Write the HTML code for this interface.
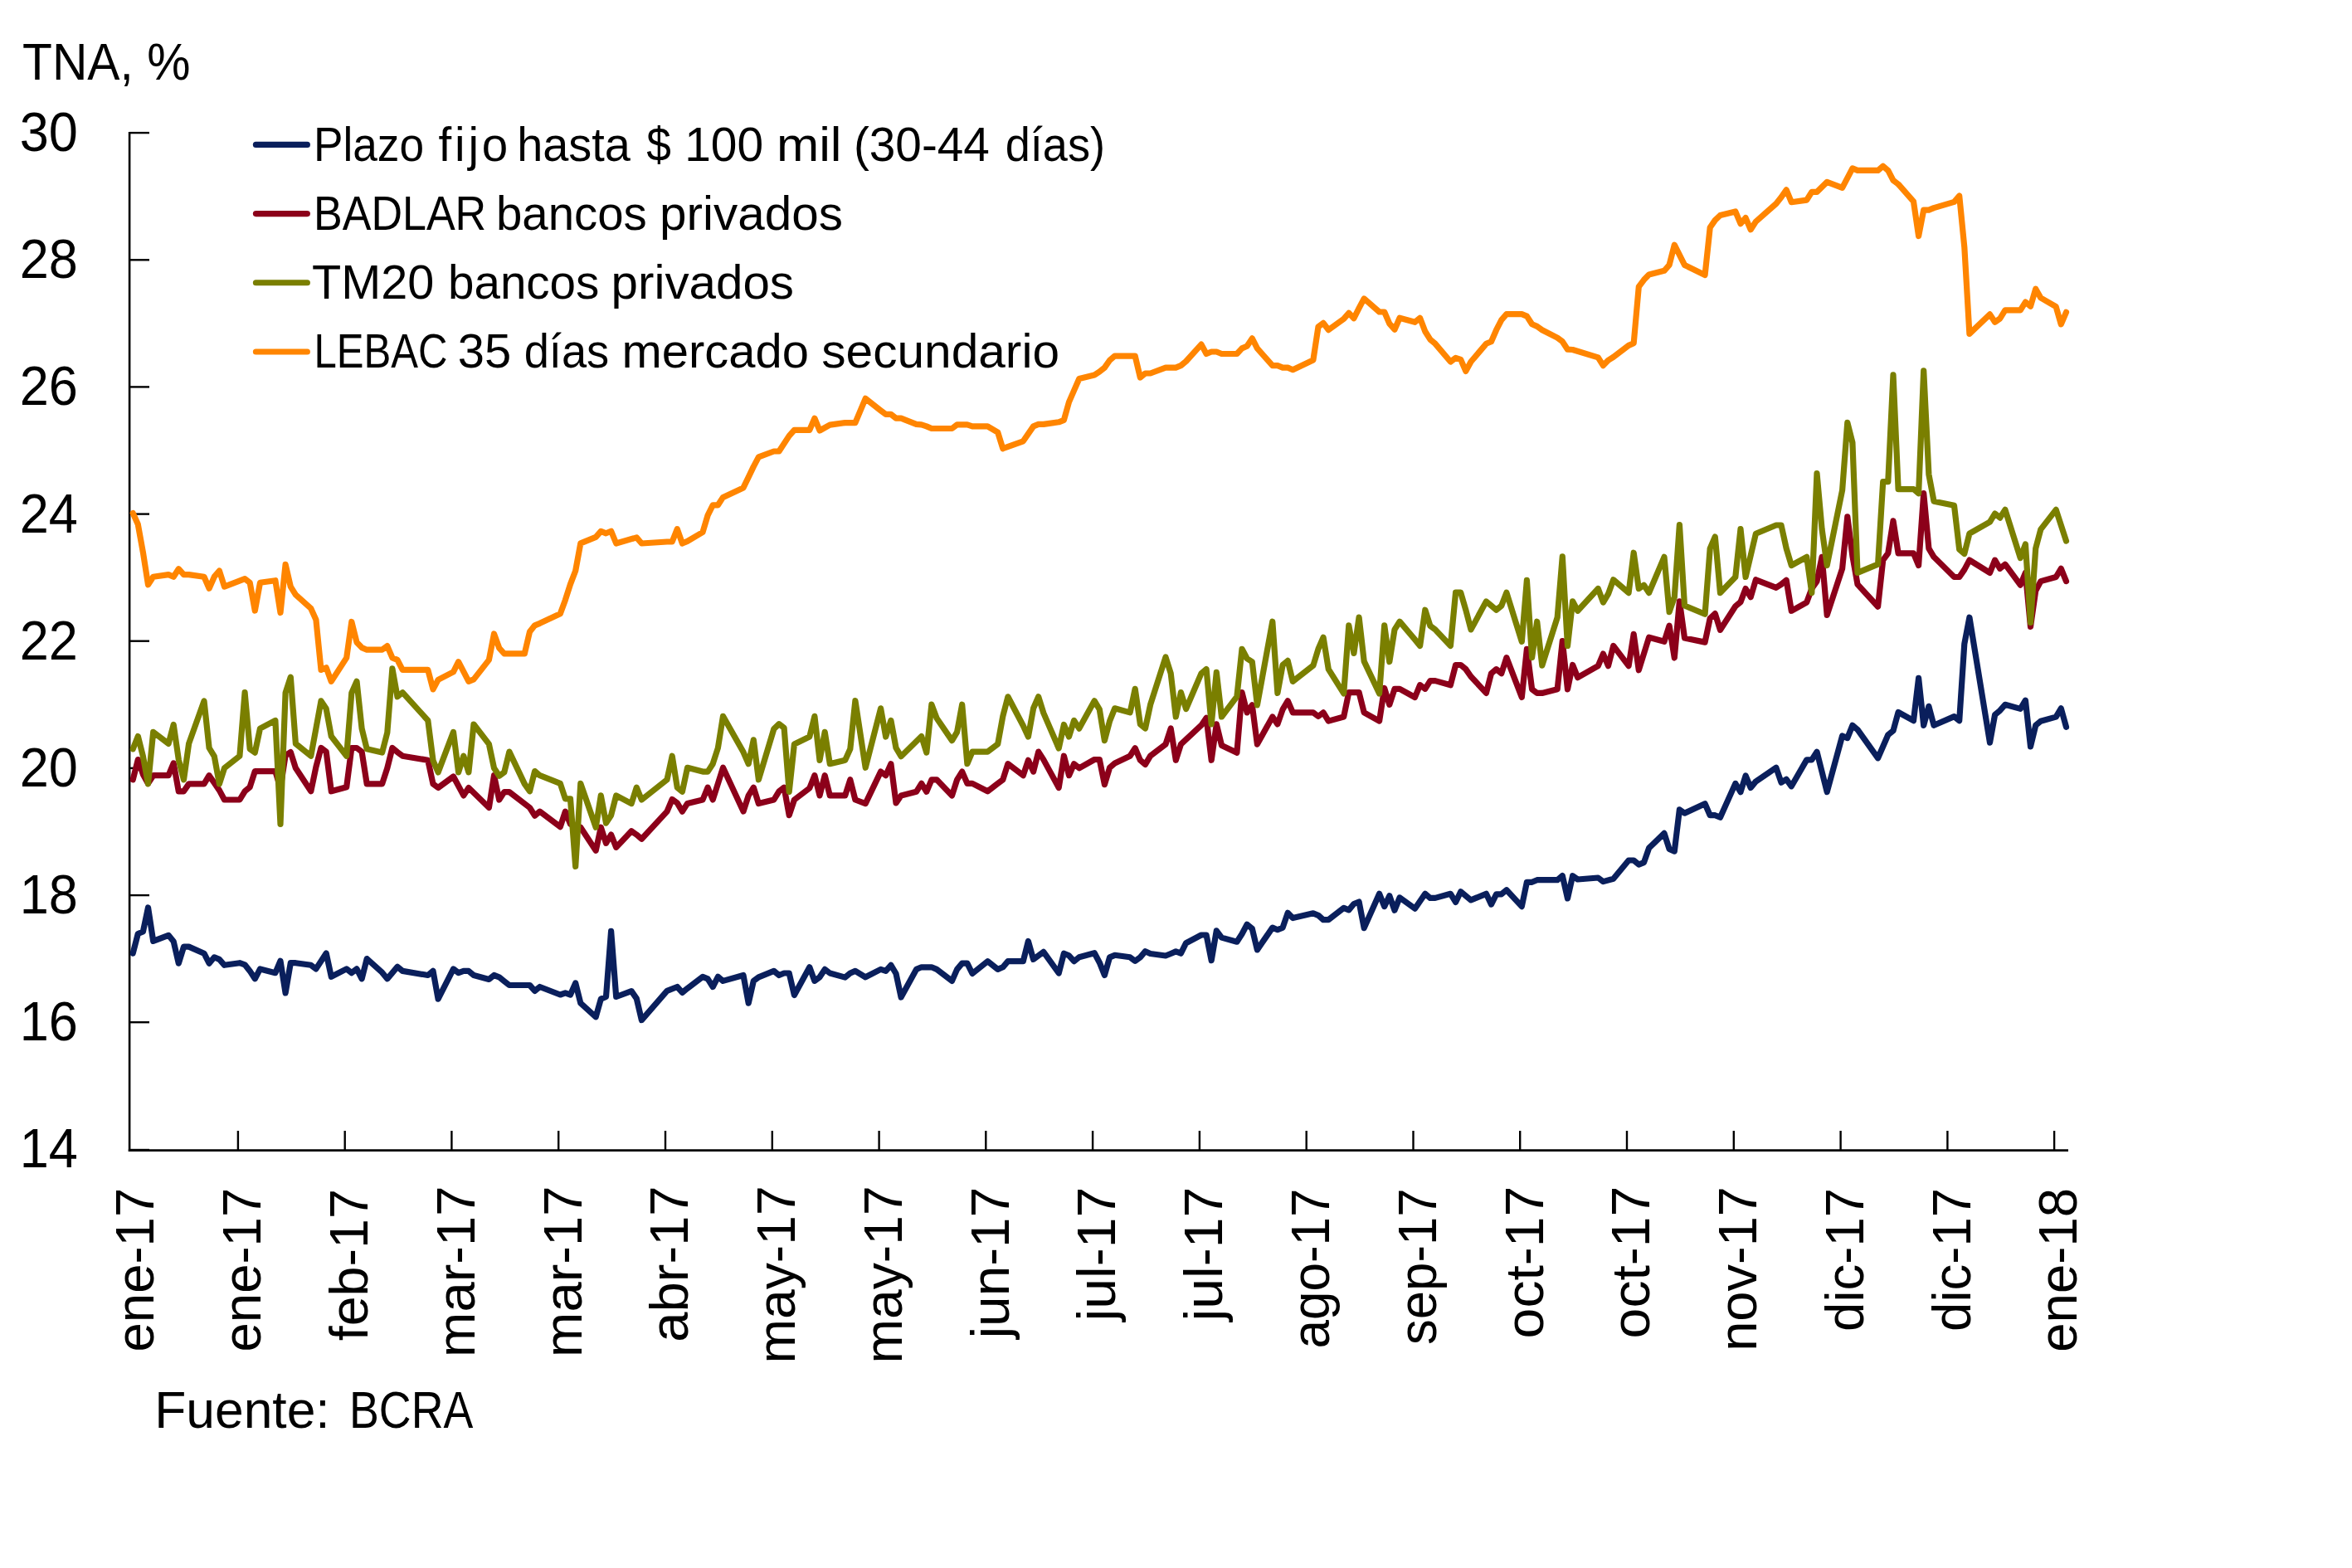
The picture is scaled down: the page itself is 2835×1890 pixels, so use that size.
<!DOCTYPE html>
<html lang="es"><head><meta charset="utf-8"><title>Tasas de interés - BCRA</title>
<style>html,body{margin:0;padding:0;background:#fff}svg{display:block}text{font-family:"Liberation Sans",sans-serif;fill:#000}</style></head><body>
<svg width="2835" height="1890" viewBox="0 0 2835 1890">
<rect width="2835" height="1890" fill="#fff"/>
<g stroke="#000" stroke-width="2.6" fill="none">
<path d="M156.1,158.9 V1387.9"/>
<path d="M154.8,1386.6 H2493"/>
</g>
<g stroke="#000" stroke-width="2.4" fill="none">
<path d="M156.2,160.1 H180"/>
<path d="M156.2,313.3 H180"/>
<path d="M156.2,466.4 H180"/>
<path d="M156.2,619.6 H180"/>
<path d="M156.2,772.7 H180"/>
<path d="M156.2,925.9 H180"/>
<path d="M156.2,1079.1 H180"/>
<path d="M156.2,1232.2 H180"/>
<path d="M156.2,1386.0 H180"/>
<path d="M286.9,1386.6 V1363"/>
<path d="M415.7,1386.6 V1363"/>
<path d="M544.4,1386.6 V1363"/>
<path d="M673.2,1386.6 V1363"/>
<path d="M802.0,1386.6 V1363"/>
<path d="M930.8,1386.6 V1363"/>
<path d="M1059.6,1386.6 V1363"/>
<path d="M1188.3,1386.6 V1363"/>
<path d="M1317.1,1386.6 V1363"/>
<path d="M1445.9,1386.6 V1363"/>
<path d="M1574.7,1386.6 V1363"/>
<path d="M1703.5,1386.6 V1363"/>
<path d="M1832.2,1386.6 V1363"/>
<path d="M1961.0,1386.6 V1363"/>
<path d="M2089.8,1386.6 V1363"/>
<path d="M2218.6,1386.6 V1363"/>
<path d="M2347.4,1386.6 V1363"/>
<path d="M2476.1,1386.6 V1363"/>
</g>
<path d="M160.2,1149.2 L166.3,1125.5 L172.4,1123.0 L178.5,1093.9 L184.7,1134.4 L203.1,1127.3 L209.2,1134.7 L215.3,1161.2 L221.5,1141.1 L227.6,1141.1 L246.0,1149.2 L252.1,1161.2 L258.3,1153.8 L264.4,1156.4 L270.5,1163.3 L288.9,1160.7 L295.1,1162.8 L301.2,1170.4 L307.3,1179.8 L313.5,1167.9 L331.9,1172.7 L338.0,1158.2 L344.1,1196.9 L350.3,1160.7 L356.4,1160.7 L374.8,1163.3 L380.9,1167.9 L393.2,1149.0 L399.3,1177.3 L417.7,1167.9 L423.8,1172.7 L430.0,1167.9 L436.1,1179.8 L442.2,1155.6 L460.6,1172.2 L466.8,1179.8 L472.9,1172.7 L479.0,1165.3 L485.2,1170.4 L515.8,1175.5 L522.0,1170.4 L528.1,1204.1 L546.5,1167.9 L552.6,1172.7 L558.8,1170.4 L564.9,1170.4 L571.0,1175.5 L589.4,1180.4 L595.5,1175.5 L601.7,1177.8 L607.8,1182.7 L613.9,1187.5 L638.5,1187.5 L644.6,1194.4 L650.7,1189.5 L675.3,1199.0 L681.4,1196.9 L687.5,1199.0 L693.7,1184.9 L699.8,1209.2 L718.2,1225.8 L724.3,1204.1 L730.5,1201.5 L736.6,1122.4 L742.7,1201.5 L761.1,1194.6 L767.3,1203.6 L773.4,1229.6 L804.0,1194.4 L816.3,1189.5 L822.4,1196.4 L828.6,1191.3 L847.0,1177.3 L853.1,1179.8 L859.2,1189.5 L865.4,1177.3 L871.5,1182.4 L896.0,1175.5 L902.2,1209.2 L908.3,1182.4 L914.4,1177.8 L932.8,1170.4 L939.0,1175.5 L945.1,1173.0 L951.2,1173.0 L957.4,1199.5 L975.8,1165.8 L981.9,1182.4 L988.0,1177.8 L994.2,1168.4 L1000.3,1173.0 L1018.7,1178.1 L1024.8,1173.0 L1030.9,1170.4 L1043.2,1177.8 L1061.6,1168.4 L1067.7,1170.4 L1073.9,1163.3 L1080.0,1173.5 L1086.1,1202.0 L1104.5,1168.4 L1110.7,1165.8 L1122.9,1165.8 L1129.1,1168.4 L1147.5,1182.4 L1153.6,1168.4 L1159.7,1161.2 L1165.9,1161.2 L1172.0,1173.5 L1190.4,1158.7 L1202.7,1168.4 L1208.8,1165.8 L1214.9,1158.7 L1233.3,1158.7 L1239.4,1134.4 L1245.6,1156.4 L1257.8,1147.4 L1276.2,1173.0 L1282.4,1149.2 L1288.5,1151.8 L1294.6,1158.7 L1300.8,1153.8 L1319.2,1148.7 L1325.3,1160.2 L1331.4,1175.5 L1337.6,1153.8 L1343.7,1151.3 L1362.1,1153.8 L1368.2,1158.4 L1374.4,1153.8 L1380.5,1146.7 L1386.6,1149.5 L1405.0,1152.0 L1411.2,1149.5 L1417.3,1146.9 L1423.4,1149.2 L1429.6,1136.7 L1448.0,1127.0 L1454.1,1127.0 L1460.2,1157.7 L1466.3,1121.9 L1472.5,1130.1 L1490.9,1135.2 L1497.0,1125.8 L1503.1,1114.3 L1509.3,1119.4 L1515.4,1144.9 L1533.8,1118.1 L1539.9,1120.7 L1546.1,1118.1 L1552.2,1100.3 L1558.3,1106.6 L1582.9,1100.8 L1589.0,1103.3 L1595.1,1108.7 L1601.3,1108.7 L1619.7,1094.4 L1625.8,1096.9 L1631.9,1089.5 L1638.1,1087.0 L1644.2,1118.6 L1662.6,1077.3 L1668.7,1092.6 L1674.8,1079.8 L1681.0,1097.2 L1687.1,1081.9 L1705.5,1095.2 L1717.8,1077.3 L1723.9,1082.4 L1730.0,1082.4 L1748.4,1077.3 L1754.6,1087.5 L1760.7,1074.7 L1773.0,1084.9 L1791.4,1077.3 L1797.5,1090.1 L1803.6,1077.8 L1809.8,1077.8 L1815.9,1072.7 L1834.3,1092.6 L1840.4,1063.3 L1846.6,1063.3 L1852.7,1060.7 L1877.2,1060.7 L1883.3,1055.6 L1889.5,1082.9 L1895.6,1055.7 L1901.7,1060.0 L1926.3,1058.0 L1932.4,1062.6 L1944.7,1059.2 L1963.1,1037.0 L1969.2,1037.0 L1975.3,1042.1 L1981.5,1039.6 L1987.6,1022.2 L2006.0,1004.4 L2012.1,1023.5 L2018.3,1026.1 L2024.4,975.8 L2030.5,980.2 L2055.1,968.7 L2061.2,982.7 L2067.3,982.7 L2073.5,985.3 L2091.8,944.4 L2098.0,954.6 L2104.1,935.0 L2110.2,949.5 L2116.4,941.9 L2140.9,925.3 L2147.0,943.2 L2153.2,939.3 L2159.3,947.8 L2177.7,915.9 L2183.8,915.9 L2190.0,906.2 L2196.1,930.4 L2202.2,954.6 L2220.6,887.0 L2226.8,889.6 L2232.9,874.3 L2239.0,879.4 L2263.6,913.8 L2275.8,885.8 L2282.0,880.7 L2288.1,858.5 L2306.5,868.7 L2312.6,817.4 L2318.7,874.3 L2324.9,851.3 L2331.0,874.3 L2355.5,863.6 L2361.7,868.7 L2367.8,776.1 L2373.9,744.2 L2398.5,895.2 L2404.6,861.5 L2410.7,856.4 L2416.9,849.3 L2435.3,854.4 L2441.4,844.2 L2447.5,899.8 L2453.7,874.3 L2459.8,869.2 L2478.2,864.1 L2484.3,853.9 L2490.5,876.3" fill="none" stroke="#0A1F5C" stroke-width="7.2" stroke-linejoin="round" stroke-linecap="round"/>
<path d="M160.2,939.8 L166.3,915.6 L172.4,933.4 L178.5,944.4 L184.7,934.7 L203.1,934.7 L209.2,919.9 L215.3,953.8 L221.5,953.8 L227.6,944.9 L246.0,944.9 L252.1,934.7 L264.4,952.6 L270.5,964.0 L288.9,964.0 L295.1,953.8 L301.2,948.7 L307.3,929.6 L331.9,929.6 L338.0,950.0 L344.1,910.5 L350.3,906.6 L356.4,925.8 L374.8,953.8 L380.9,924.5 L387.0,901.5 L393.2,906.1 L399.3,953.8 L417.7,948.7 L423.8,901.5 L430.0,901.5 L436.1,906.1 L442.2,944.9 L460.6,944.9 L466.8,925.8 L472.9,901.5 L479.0,906.6 L485.2,911.2 L515.8,916.3 L522.0,944.9 L528.1,949.5 L546.5,936.0 L558.8,958.9 L564.9,949.5 L589.4,973.5 L595.5,934.7 L601.7,964.0 L607.8,954.6 L613.9,954.6 L638.5,973.5 L644.6,983.2 L650.7,978.1 L675.3,996.7 L681.4,978.1 L687.5,993.4 L699.8,997.2 L718.2,1025.3 L724.3,997.2 L730.5,1016.3 L736.6,1006.1 L742.7,1021.4 L761.1,1001.8 L767.3,1006.1 L773.4,1011.2 L804.0,978.1 L810.2,963.5 L816.3,967.9 L822.4,978.1 L828.6,968.4 L847.0,964.0 L853.1,949.2 L859.2,964.0 L871.5,925.3 L896.0,978.1 L902.2,958.9 L908.3,949.2 L914.4,968.6 L932.8,964.0 L939.0,953.8 L945.1,949.2 L951.2,982.7 L957.4,964.0 L975.8,950.0 L981.9,934.7 L988.0,958.9 L994.2,934.7 L1000.3,958.9 L1018.7,958.9 L1024.8,939.8 L1030.9,964.0 L1043.2,968.6 L1061.6,930.1 L1067.7,934.7 L1073.9,920.7 L1080.0,967.9 L1086.1,958.9 L1104.5,954.3 L1110.7,944.4 L1116.8,954.3 L1122.9,939.8 L1129.1,939.8 L1147.5,958.9 L1153.6,939.8 L1159.7,930.1 L1165.9,944.4 L1172.0,944.4 L1190.4,953.8 L1202.7,944.4 L1208.8,939.8 L1214.9,920.7 L1233.3,934.7 L1239.4,916.3 L1245.6,930.1 L1251.7,906.1 L1257.8,915.6 L1276.2,949.5 L1282.4,911.2 L1288.5,934.7 L1294.6,920.7 L1300.8,925.8 L1319.2,915.5 L1325.3,915.5 L1331.4,945.6 L1337.6,925.2 L1343.7,920.1 L1362.1,911.2 L1368.2,901.7 L1374.4,916.3 L1380.5,921.4 L1386.6,911.2 L1405.0,897.1 L1411.2,878.0 L1417.3,916.3 L1423.4,897.1 L1448.0,874.2 L1454.1,865.3 L1460.2,916.3 L1466.3,872.9 L1472.5,898.4 L1490.9,907.3 L1497.0,834.6 L1503.1,858.9 L1509.3,849.9 L1515.4,897.1 L1533.8,864.0 L1539.9,872.9 L1546.1,855.1 L1552.2,844.8 L1558.3,858.9 L1582.9,858.9 L1589.0,863.5 L1595.1,858.9 L1601.3,869.1 L1619.7,864.0 L1625.8,834.6 L1638.1,834.6 L1644.2,858.9 L1662.6,869.1 L1668.7,829.5 L1674.8,849.4 L1681.0,830.3 L1687.1,830.3 L1705.5,840.5 L1711.6,825.7 L1717.8,830.3 L1723.9,820.6 L1730.0,820.6 L1748.4,825.7 L1754.6,801.5 L1760.7,801.5 L1766.8,806.6 L1773.0,815.5 L1791.4,835.4 L1797.5,811.7 L1803.6,806.6 L1809.8,811.7 L1815.9,792.6 L1834.3,840.5 L1840.4,782.3 L1846.6,830.8 L1852.7,835.4 L1858.8,835.4 L1877.2,830.8 L1883.3,772.7 L1889.5,830.8 L1895.6,801.4 L1901.7,816.7 L1926.3,802.7 L1932.4,788.1 L1938.5,802.7 L1944.7,778.4 L1963.1,802.7 L1969.2,764.4 L1975.3,807.8 L1987.6,768.2 L2006.0,773.3 L2012.1,754.2 L2018.3,793.0 L2024.4,724.8 L2030.5,769.0 L2055.1,774.1 L2061.2,745.3 L2067.3,739.6 L2073.5,759.3 L2091.8,730.7 L2098.0,725.6 L2104.1,709.5 L2110.2,719.7 L2116.4,698.8 L2140.9,708.3 L2147.0,704.4 L2153.2,699.3 L2159.3,736.3 L2177.7,726.1 L2183.8,709.5 L2190.0,700.6 L2196.1,671.3 L2202.2,741.4 L2220.6,685.3 L2226.8,622.8 L2232.9,670.0 L2239.0,704.4 L2263.6,731.2 L2269.7,675.1 L2275.8,666.9 L2282.0,627.9 L2288.1,666.9 L2306.5,666.9 L2312.6,681.5 L2318.7,594.7 L2324.9,661.1 L2331.0,671.3 L2355.5,695.5 L2361.7,695.5 L2367.8,686.6 L2373.9,675.1 L2398.5,690.4 L2404.6,675.1 L2410.7,685.3 L2416.9,680.2 L2435.3,705.2 L2441.4,690.4 L2447.5,755.5 L2453.7,712.1 L2459.8,700.6 L2478.2,695.5 L2484.3,685.3 L2490.5,700.6" fill="none" stroke="#8C001A" stroke-width="7.2" stroke-linejoin="round" stroke-linecap="round"/>
<path d="M160.2,902.8 L166.3,887.5 L172.4,911.7 L178.5,944.9 L184.7,882.4 L203.1,896.4 L209.2,873.5 L215.3,915.6 L221.5,939.8 L227.6,896.4 L246.0,844.9 L252.1,901.5 L258.3,911.7 L264.4,944.9 L270.5,925.8 L288.9,911.2 L295.1,834.7 L301.2,902.8 L307.3,907.1 L313.5,878.1 L331.9,868.4 L338.0,993.4 L344.1,835.2 L350.3,816.1 L356.4,896.4 L374.8,911.2 L380.9,878.1 L387.0,844.9 L393.2,854.3 L399.3,887.5 L417.7,911.2 L423.8,835.2 L430.0,821.2 L436.1,878.1 L442.2,902.8 L460.6,907.1 L466.8,883.2 L472.9,805.9 L479.0,839.8 L485.2,834.7 L515.8,868.4 L522.0,916.8 L528.1,930.9 L546.5,882.4 L552.6,930.9 L558.8,911.2 L564.9,930.9 L571.0,873.0 L589.4,896.9 L595.5,925.8 L601.7,935.2 L607.8,930.9 L613.9,906.1 L632.3,944.9 L638.5,953.8 L644.6,929.6 L650.7,934.7 L675.3,944.4 L681.4,962.8 L687.5,962.8 L693.7,1044.4 L699.8,944.4 L718.2,997.2 L724.3,958.9 L730.5,992.1 L736.6,982.7 L742.7,958.9 L761.1,968.6 L767.3,949.2 L773.4,964.0 L804.0,939.8 L810.2,911.2 L816.3,949.2 L822.4,954.3 L828.6,925.3 L847.0,930.1 L853.1,930.1 L859.2,920.7 L865.4,901.5 L871.5,863.3 L896.0,906.6 L902.2,920.7 L908.3,891.8 L914.4,939.8 L932.8,878.6 L939.0,872.7 L945.1,877.3 L951.2,954.3 L957.4,896.9 L975.8,888.0 L981.9,863.3 L988.0,916.3 L994.2,882.4 L1000.3,920.7 L1018.7,916.3 L1024.8,902.8 L1030.9,844.6 L1043.2,925.3 L1061.6,853.8 L1067.7,888.0 L1073.9,868.4 L1080.0,901.5 L1086.1,911.7 L1110.7,887.5 L1116.8,907.1 L1122.9,849.2 L1129.1,865.8 L1147.5,892.6 L1153.6,882.4 L1159.7,849.2 L1165.9,920.7 L1172.0,906.1 L1190.4,906.1 L1202.7,896.9 L1208.8,863.3 L1214.9,839.8 L1233.3,874.7 L1239.4,888.0 L1245.6,853.8 L1251.7,839.8 L1257.8,859.4 L1276.2,902.0 L1282.4,873.5 L1288.5,888.0 L1294.6,868.4 L1300.8,878.1 L1319.2,844.8 L1325.3,855.1 L1331.4,892.6 L1337.6,869.1 L1343.7,853.8 L1362.1,858.9 L1368.2,830.3 L1374.4,872.9 L1380.5,878.0 L1386.6,849.4 L1405.0,792.0 L1411.2,811.7 L1417.3,864.0 L1423.4,834.6 L1429.6,854.5 L1448.0,811.7 L1454.1,806.6 L1460.2,872.9 L1466.3,810.4 L1472.5,864.0 L1490.9,839.7 L1497.0,782.3 L1503.1,793.8 L1509.3,797.7 L1515.4,849.9 L1533.8,749.2 L1539.9,835.4 L1546.1,801.5 L1552.2,796.4 L1558.3,821.4 L1582.9,802.2 L1589.0,782.3 L1595.1,768.3 L1601.3,806.6 L1619.7,835.9 L1625.8,753.8 L1631.9,787.4 L1638.1,744.1 L1644.2,797.1 L1662.6,835.9 L1668.7,753.8 L1674.8,797.7 L1681.0,758.9 L1687.1,749.2 L1705.5,770.9 L1711.6,778.5 L1717.8,735.2 L1723.9,754.3 L1730.0,758.9 L1748.4,778.5 L1754.6,714.2 L1760.7,714.2 L1766.8,735.2 L1773.0,758.9 L1791.4,724.9 L1797.5,730.1 L1803.6,735.2 L1809.8,730.1 L1815.9,714.2 L1834.3,773.4 L1840.4,699.4 L1846.6,792.6 L1852.7,749.2 L1858.8,802.2 L1877.2,744.1 L1883.3,670.9 L1889.5,778.5 L1895.6,724.8 L1901.7,736.3 L1926.3,709.5 L1932.4,726.1 L1938.5,715.9 L1944.7,698.8 L1963.1,714.6 L1969.2,666.2 L1975.3,709.5 L1981.5,705.2 L1987.6,714.6 L2006.0,671.3 L2012.1,737.6 L2018.3,719.7 L2024.4,632.5 L2030.5,729.9 L2055.1,740.2 L2061.2,661.1 L2067.3,647.0 L2073.5,714.6 L2091.8,695.5 L2098.0,637.6 L2104.1,695.5 L2116.4,643.2 L2140.9,633.0 L2147.0,633.0 L2153.2,661.1 L2159.3,681.5 L2177.7,671.3 L2183.8,714.6 L2190.0,570.5 L2196.1,638.1 L2202.2,681.5 L2220.6,590.9 L2226.8,509.3 L2232.9,533.5 L2239.0,690.4 L2263.6,680.2 L2269.7,580.7 L2275.8,580.7 L2282.0,451.9 L2288.1,589.6 L2306.5,589.6 L2312.6,594.7 L2318.7,446.8 L2324.9,571.8 L2331.0,604.2 L2355.5,609.3 L2361.7,662.3 L2367.8,667.4 L2373.9,643.2 L2398.5,629.2 L2404.6,619.0 L2410.7,624.1 L2416.9,614.4 L2435.3,672.6 L2441.4,656.0 L2447.5,750.4 L2453.7,661.1 L2459.8,638.1 L2478.2,614.4 L2490.5,652.1" fill="none" stroke="#7A7F00" stroke-width="7.2" stroke-linejoin="round" stroke-linecap="round"/>
<path d="M160.2,618.6 L166.3,632.1 L172.4,665.8 L178.5,704.8 L184.7,695.2 L203.1,692.6 L209.2,695.2 L215.3,685.7 L221.5,692.6 L227.6,692.6 L246.0,695.2 L252.1,709.2 L258.3,695.2 L264.4,688.0 L270.5,707.1 L295.1,697.7 L301.2,702.3 L307.3,736.0 L313.5,702.3 L331.9,699.7 L338.0,738.5 L344.1,680.4 L350.3,707.1 L356.4,716.8 L374.8,733.4 L380.9,746.9 L387.0,807.4 L393.2,804.8 L399.3,821.4 L417.7,792.9 L423.8,749.5 L430.0,774.2 L436.1,780.6 L442.2,783.2 L460.6,783.2 L466.8,778.6 L472.9,792.9 L479.0,795.4 L485.2,807.4 L515.8,807.4 L522.0,830.9 L528.1,819.4 L546.5,809.9 L552.6,797.7 L564.9,821.4 L571.0,818.9 L589.4,795.4 L595.5,764.0 L601.7,781.1 L607.8,787.8 L632.3,787.8 L638.5,761.5 L644.6,753.8 L650.7,751.3 L675.3,739.8 L681.4,723.2 L687.5,704.1 L693.7,688.0 L699.8,654.8 L718.2,647.4 L724.3,640.3 L730.5,642.8 L736.6,640.2 L742.7,655.0 L767.3,647.9 L773.4,655.0 L804.0,653.0 L810.2,653.0 L816.3,637.7 L822.4,655.0 L828.6,652.4 L847.0,641.5 L853.1,621.1 L859.2,608.8 L865.4,608.8 L871.5,599.4 L896.0,587.9 L902.2,575.2 L908.3,562.4 L914.4,550.9 L932.8,544.0 L939.0,544.0 L951.2,525.4 L957.4,518.3 L975.8,518.3 L981.9,504.2 L988.0,519.0 L1000.3,512.1 L1018.7,509.6 L1030.9,509.6 L1043.2,480.3 L1061.6,494.8 L1067.7,499.4 L1073.9,499.4 L1080.0,504.2 L1086.1,504.2 L1104.5,511.4 L1110.7,511.9 L1116.8,513.9 L1122.9,516.5 L1147.5,516.5 L1153.6,511.9 L1165.9,511.9 L1172.0,513.9 L1190.4,513.9 L1202.7,521.1 L1208.8,540.7 L1233.3,531.8 L1245.6,513.9 L1251.7,511.4 L1257.8,511.4 L1276.2,508.8 L1282.4,506.3 L1288.5,484.6 L1294.6,470.6 L1300.8,456.5 L1319.2,452.0 L1325.3,448.0 L1331.4,443.1 L1337.6,434.2 L1343.7,429.1 L1368.2,429.1 L1374.4,455.1 L1380.5,450.0 L1386.6,450.0 L1405.0,443.1 L1417.3,443.1 L1423.4,440.6 L1429.6,435.5 L1448.0,415.1 L1454.1,426.5 L1460.2,424.0 L1466.3,424.0 L1472.5,426.5 L1490.9,426.5 L1497.0,419.9 L1503.1,417.3 L1509.3,407.9 L1515.4,419.9 L1533.8,440.6 L1539.9,440.6 L1546.1,443.1 L1552.2,443.1 L1558.3,445.7 L1582.9,433.9 L1589.0,393.9 L1595.1,389.3 L1601.3,397.7 L1619.7,384.4 L1625.8,377.3 L1631.9,383.7 L1638.1,371.4 L1644.2,359.9 L1662.6,376.0 L1668.7,376.0 L1674.8,390.1 L1681.0,397.2 L1687.1,383.2 L1705.5,388.3 L1711.6,383.2 L1717.8,399.5 L1723.9,409.2 L1730.0,414.3 L1748.4,436.0 L1754.6,431.4 L1760.7,433.4 L1766.8,447.4 L1773.0,436.0 L1791.4,414.3 L1797.5,411.7 L1803.6,397.7 L1809.8,385.7 L1815.9,378.6 L1834.3,378.6 L1840.4,381.1 L1846.6,390.8 L1852.7,393.4 L1858.8,397.7 L1877.2,407.1 L1883.3,411.7 L1889.5,421.2 L1895.6,421.5 L1926.3,430.9 L1932.4,440.6 L1938.5,434.2 L1944.7,430.4 L1963.1,416.4 L1969.2,413.8 L1975.3,345.7 L1981.5,337.3 L1987.6,330.9 L2006.0,326.3 L2012.1,319.4 L2018.3,295.2 L2030.5,319.4 L2055.1,331.4 L2061.2,274.3 L2067.3,265.4 L2073.5,259.5 L2091.8,254.9 L2098.0,269.7 L2104.1,262.6 L2110.2,276.8 L2116.4,267.1 L2140.9,245.5 L2147.0,237.8 L2153.2,228.9 L2159.3,243.7 L2177.7,241.1 L2183.8,231.4 L2190.0,231.4 L2202.2,219.4 L2220.6,226.3 L2232.9,202.9 L2239.0,205.4 L2263.6,205.4 L2269.7,200.3 L2275.8,205.4 L2282.0,217.4 L2288.1,222.0 L2306.5,242.9 L2312.6,284.5 L2318.7,253.1 L2324.9,253.1 L2331.0,250.6 L2355.5,243.4 L2361.7,236.0 L2367.8,297.8 L2373.9,402.3 L2398.5,378.9 L2404.6,388.3 L2410.7,384.0 L2416.9,373.8 L2435.3,373.8 L2441.4,364.1 L2447.5,369.2 L2453.7,348.3 L2459.8,359.0 L2478.2,369.7 L2484.3,390.9 L2490.5,376.3" fill="none" stroke="#FF8500" stroke-width="7.2" stroke-linejoin="round" stroke-linecap="round"/>
<text id="tna" x="27.1" y="96.0" font-size="63.5" textLength="202.3" lengthAdjust="spacingAndGlyphs">TNA, %</text>
<text id="yl30" x="23.7" y="182.1" font-size="67" textLength="70.2" lengthAdjust="spacingAndGlyphs">30</text>
<text id="yl28" x="23.7" y="335.3" font-size="67" textLength="70.2" lengthAdjust="spacingAndGlyphs">28</text>
<text id="yl26" x="23.7" y="488.4" font-size="67" textLength="70.2" lengthAdjust="spacingAndGlyphs">26</text>
<text id="yl24" x="23.7" y="641.6" font-size="67" textLength="70.2" lengthAdjust="spacingAndGlyphs">24</text>
<text id="yl22" x="23.7" y="794.7" font-size="67" textLength="70.2" lengthAdjust="spacingAndGlyphs">22</text>
<text id="yl20" x="23.7" y="947.9" font-size="67" textLength="70.2" lengthAdjust="spacingAndGlyphs">20</text>
<text id="yl18" x="23.7" y="1101.1" font-size="67" textLength="70.2" lengthAdjust="spacingAndGlyphs">18</text>
<text id="yl16" x="23.7" y="1254.2" font-size="67" textLength="70.2" lengthAdjust="spacingAndGlyphs">16</text>
<text id="yl14" x="23.7" y="1407.4" font-size="67" textLength="70.2" lengthAdjust="spacingAndGlyphs">14</text>
<path d="M308.4,174.4 H370.4" stroke="#0A1F5C" stroke-width="7.1" stroke-linecap="round" fill="none"/>
<text id="leg0" y="193.8" font-size="56.5" xml:space="preserve"><tspan id="leg0w0" x="378.0" textLength="133.0" lengthAdjust="spacingAndGlyphs">Plazo</tspan> <tspan id="leg0w1" x="528.6" textLength="83.7" lengthAdjust="spacing">fijo</tspan> <tspan id="leg0w2" x="623.2" textLength="136.7" lengthAdjust="spacingAndGlyphs">hasta</tspan> <tspan id="leg0w3" x="779.3" textLength="29.6" lengthAdjust="spacingAndGlyphs">$</tspan> <tspan id="leg0w4" x="825.2" textLength="94.9" lengthAdjust="spacingAndGlyphs">100</tspan> <tspan id="leg0w5" x="935.9" textLength="78.6" lengthAdjust="spacingAndGlyphs">mil</tspan> <tspan id="leg0w6" x="1028.9" textLength="164.0" lengthAdjust="spacingAndGlyphs">(30-44</tspan> <tspan id="leg0w7" x="1211.7" textLength="120.3" lengthAdjust="spacingAndGlyphs">días)</tspan></text>
<path d="M308.4,257.6 H370.4" stroke="#8C001A" stroke-width="7.1" stroke-linecap="round" fill="none"/>
<text id="leg1" y="276.7" font-size="56.5" xml:space="preserve"><tspan id="leg1w0" x="378.0" textLength="208.2" lengthAdjust="spacingAndGlyphs">BADLAR</tspan> <tspan id="leg1w1" x="598.0" textLength="181.8" lengthAdjust="spacingAndGlyphs">bancos</tspan> <tspan id="leg1w2" x="795.1" textLength="220.9" lengthAdjust="spacingAndGlyphs">privados</tspan></text>
<path d="M308.4,340.8 H370.4" stroke="#7A7F00" stroke-width="7.1" stroke-linecap="round" fill="none"/>
<text id="leg2" y="359.6" font-size="56.5" xml:space="preserve"><tspan id="leg2w0" x="376.0" textLength="147.2" lengthAdjust="spacingAndGlyphs">TM20</tspan> <tspan id="leg2w1" x="540.0" textLength="182.3" lengthAdjust="spacingAndGlyphs">bancos</tspan> <tspan id="leg2w2" x="736.6" textLength="220.4" lengthAdjust="spacingAndGlyphs">privados</tspan></text>
<path d="M308.4,424.0 H370.4" stroke="#FF8500" stroke-width="7.1" stroke-linecap="round" fill="none"/>
<text id="leg3" y="442.6" font-size="56.5" xml:space="preserve"><tspan id="leg3w0" x="378.5" textLength="161.1" lengthAdjust="spacingAndGlyphs">LEBAC</tspan> <tspan id="leg3w1" x="551.8" textLength="64.4" lengthAdjust="spacingAndGlyphs">35</tspan> <tspan id="leg3w2" x="631.7" textLength="102.5" lengthAdjust="spacingAndGlyphs">días</tspan> <tspan id="leg3w3" x="749.6" textLength="225.4" lengthAdjust="spacingAndGlyphs">mercado</tspan> <tspan id="leg3w4" x="990.3" textLength="286.7" lengthAdjust="spacingAndGlyphs">secundario</tspan></text>
<g transform="translate(185.4,1431.8) rotate(-90)"><text id="xl0" x="0.0" y="0.0" font-size="65" text-anchor="end" textLength="197.7" lengthAdjust="spacingAndGlyphs">ene-17</text></g>
<g transform="translate(314.2,1431.8) rotate(-90)"><text id="xl1" x="0.0" y="0.0" font-size="65" text-anchor="end" textLength="197.7" lengthAdjust="spacingAndGlyphs">ene-17</text></g>
<g transform="translate(443.0,1433.0) rotate(-90)"><text id="xl2" x="0.0" y="0.0" font-size="65" text-anchor="end" textLength="183.3" lengthAdjust="spacingAndGlyphs">feb-17</text></g>
<g transform="translate(571.7,1429.4) rotate(-90)"><text id="xl3" x="0.0" y="0.0" font-size="65" text-anchor="end" textLength="206.5" lengthAdjust="spacingAndGlyphs">mar-17</text></g>
<g transform="translate(700.5,1429.4) rotate(-90)"><text id="xl4" x="0.0" y="0.0" font-size="65" text-anchor="end" textLength="206.5" lengthAdjust="spacingAndGlyphs">mar-17</text></g>
<g transform="translate(829.3,1429.4) rotate(-90)"><text id="xl5" x="0.0" y="0.0" font-size="65" text-anchor="end" textLength="188.3" lengthAdjust="spacingAndGlyphs">abr-17</text></g>
<g transform="translate(958.1,1429.4) rotate(-90)"><text id="xl6" x="0.0" y="0.0" font-size="65" text-anchor="end" textLength="214.2" lengthAdjust="spacingAndGlyphs">may-17</text></g>
<g transform="translate(1086.9,1429.4) rotate(-90)"><text id="xl7" x="0.0" y="0.0" font-size="65" text-anchor="end" textLength="214.2" lengthAdjust="spacingAndGlyphs">may-17</text></g>
<g transform="translate(1215.6,1430.8) rotate(-90)"><text id="xl8" x="0.0" y="0.0" font-size="65" text-anchor="end" textLength="182.7" lengthAdjust="spacingAndGlyphs">jun-17</text></g>
<g transform="translate(1344.4,1430.8) rotate(-90)"><text id="xl9" x="0.0" y="0.0" font-size="65" text-anchor="end" textLength="161.6" lengthAdjust="spacingAndGlyphs">jul-17</text></g>
<g transform="translate(1473.2,1430.8) rotate(-90)"><text id="xl10" x="0.0" y="0.0" font-size="65" text-anchor="end" textLength="161.6" lengthAdjust="spacingAndGlyphs">jul-17</text></g>
<g transform="translate(1602.0,1432.4) rotate(-90)"><text id="xl11" x="0.0" y="0.0" font-size="65" text-anchor="end" textLength="193.1" lengthAdjust="spacingAndGlyphs">ago-17</text></g>
<g transform="translate(1730.8,1432.4) rotate(-90)"><text id="xl12" x="0.0" y="0.0" font-size="65" text-anchor="end" textLength="188.7" lengthAdjust="spacingAndGlyphs">sep-17</text></g>
<g transform="translate(1859.5,1429.6) rotate(-90)"><text id="xl13" x="0.0" y="0.0" font-size="65" text-anchor="end" textLength="183.8" lengthAdjust="spacingAndGlyphs">oct-17</text></g>
<g transform="translate(1988.3,1429.6) rotate(-90)"><text id="xl14" x="0.0" y="0.0" font-size="65" text-anchor="end" textLength="183.8" lengthAdjust="spacingAndGlyphs">oct-17</text></g>
<g transform="translate(2117.1,1430.0) rotate(-90)"><text id="xl15" x="0.0" y="0.0" font-size="65" text-anchor="end" textLength="198.8" lengthAdjust="spacingAndGlyphs">nov-17</text></g>
<g transform="translate(2245.9,1432.0) rotate(-90)"><text id="xl16" x="0.0" y="0.0" font-size="65" text-anchor="end" textLength="172.9" lengthAdjust="spacingAndGlyphs">dic-17</text></g>
<g transform="translate(2374.7,1432.0) rotate(-90)"><text id="xl17" x="0.0" y="0.0" font-size="65" text-anchor="end" textLength="172.9" lengthAdjust="spacingAndGlyphs">dic-17</text></g>
<g transform="translate(2503.4,1432.0) rotate(-90)"><text id="xl18" x="0.0" y="0.0" font-size="65" text-anchor="end" textLength="197.7" lengthAdjust="spacingAndGlyphs">ene-18</text></g>
<text id="src" y="1720.6" font-size="63" xml:space="preserve"><tspan id="src1" x="186.2" textLength="211.5" lengthAdjust="spacingAndGlyphs">Fuente:</tspan>  <tspan id="src2" x="421.0" textLength="149.3" lengthAdjust="spacingAndGlyphs">BCRA</tspan></text>
</svg></body></html>
